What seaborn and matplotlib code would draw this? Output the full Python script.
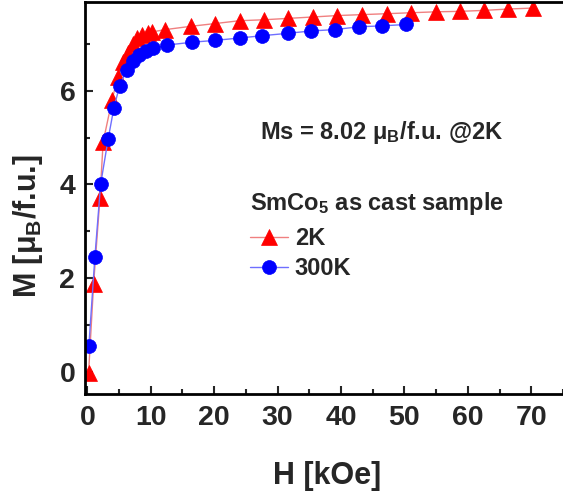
import matplotlib
matplotlib.use("Agg")
import matplotlib.pyplot as plt
import seaborn as sns
import pandas as pd

# ---- data ----
H_2K = [0.2, 1.0, 2.0, 2.5, 3.9, 4.8, 5.6, 6.4, 7.2, 7.9, 8.7, 9.5, 10.2, 12.3,
        16.3, 20.2, 24.0, 27.8, 31.7, 35.6, 39.4, 43.3, 47.2, 51.0, 54.9, 58.7,
        62.5, 66.4, 70.2]
M_2K = [-0.04, 1.88, 3.72, 4.91, 5.80, 6.30, 6.62, 6.80, 7.01, 7.12, 7.19, 7.23,
        7.26, 7.31, 7.38, 7.44, 7.50, 7.52, 7.55, 7.58, 7.61, 7.63, 7.65, 7.67,
        7.69, 7.70, 7.72, 7.75, 7.77]
H_300K = [0.25, 1.2, 2.1, 3.3, 4.2, 5.1, 6.2, 7.15, 8.2, 9.3, 10.4, 12.6, 16.5,
          20.2, 24.0, 27.6, 31.6, 35.2, 39.0, 42.8, 46.5, 50.3]
M_300K = [0.55, 2.45, 4.00, 4.98, 5.64, 6.11, 6.44, 6.63, 6.76, 6.85, 6.91, 6.98,
          7.04, 7.08, 7.13, 7.18, 7.23, 7.28, 7.31, 7.37, 7.39, 7.42]
series_labels = ["2K", "300K"]
x_ticks = [0, 10, 20, 30, 40, 50, 60, 70]
y_ticks = [0, 2, 4, 6]

sns.set_style("ticks")
plt.rcParams["font.family"] = ["Liberation Sans", "DejaVu Sans"]
plt.rcParams["font.weight"] = "bold"
plt.rcParams["mathtext.fontset"] = "custom"
plt.rcParams["mathtext.rm"] = "Liberation Sans:bold"
plt.rcParams["mathtext.default"] = "regular"

fig = plt.figure(figsize=(5.63, 4.97), dpi=100)
ax = fig.add_axes([85 / 563, 103 / 497, 478 / 563, 392 / 497])

df2 = pd.DataFrame({"H": H_2K, "M": M_2K})
df3 = pd.DataFrame({"H": H_300K, "M": M_300K})

sns.lineplot(data=df2, x="H", y="M", ax=ax, sort=False, color="#f08080",
             linewidth=1.0, marker="^", markersize=11, markerfacecolor="red",
             markeredgecolor="red", markeredgewidth=0.5, label=series_labels[0])
sns.lineplot(data=df3, x="H", y="M", ax=ax, sort=False, color="#6f6fff",
             linewidth=1.0, marker="o", markersize=10, markerfacecolor="blue",
             markeredgecolor="blue", markeredgewidth=0.5, label=series_labels[1])

ax.set_xlim(-0.36, 73.9)
ax.set_ylim(-0.48, 7.9)
ax.set_xticks(x_ticks)
ax.set_yticks(y_ticks)
ax.set_xticks([5, 15, 25, 35, 45, 55, 65, 75], minor=True)
ax.set_yticks([1, 3, 5, 7], minor=True)
ax.tick_params(which="major", direction="in", length=6, width=1.5,
               labelsize=20.5)
ax.tick_params(axis="x", which="major", pad=8)
ax.tick_params(axis="y", which="major", pad=7)
ax.tick_params(which="minor", direction="in", length=3.5, width=1.5)
for t in ax.get_xticklabels() + ax.get_yticklabels():
    t.set_fontweight("bold")

ax.spines["right"].set_visible(False)
for s in ["left", "bottom", "top"]:
    ax.spines[s].set_linewidth(2)
    ax.spines[s].set_color("black")

ax.set_xlabel("H [kOe]", fontsize=22, fontweight="bold")
ax.set_ylabel(r"M [$\mu_B$/f.u.]", fontsize=22, fontweight="bold")
ax.xaxis.set_label_coords((327 - 85) / 478, (394 - 476) / 392)
ax.yaxis.set_label_coords((28 - 85) / 478, (394 - 226) / 392)
ax.xaxis.label.set_va("center")
ax.yaxis.label.set_va("center")

ax.text(0.366, 0.668, r"Ms = 8.02 $\mu_B$/f.u. @2K", transform=ax.transAxes,
        fontsize=17, fontweight="bold", va="center", ha="left")

leg = ax.legend(loc="upper left", bbox_to_anchor=(0.345, 0.52), frameon=False,
                title=r"SmCo$_5$ as cast sample", fontsize=17,
                title_fontproperties={"size": 17, "weight": "bold"},
                alignment="left", handlelength=1.6, handletextpad=0.3,
                labelspacing=0.3, borderpad=0, borderaxespad=0)
leg._legend_box.sep = 7
for t in leg.get_texts():
    t.set_fontweight("bold")

fig.savefig("out.png", dpi=100)
